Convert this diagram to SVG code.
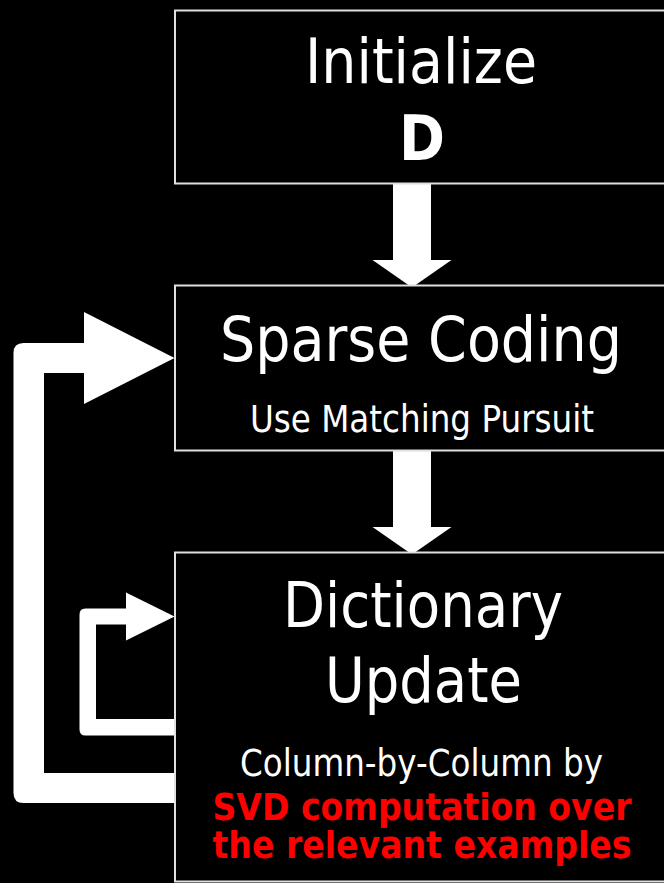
<svg xmlns="http://www.w3.org/2000/svg" width="664" height="883" viewBox="0 0 664 883">
  <style>
    .box { fill: #000; stroke: #e0e0e0; stroke-width: 2; }
    .arrow { fill: #fff; stroke: none; }
    text { font-family: "DejaVu Sans", "Liberation Sans", sans-serif; text-anchor: middle; fill: #fff; }
    .title { font-size: 63px; }
    .sub { font-size: 37px; }
    .key { font-size: 63px; font-weight: bold; }
    .hot { font-size: 38px; font-weight: bold; fill: #ff0000; }
  </style>
  <rect width="664" height="883" fill="#000"/>

  <!-- flow arrows -->
  <g id="connectors">
    <!-- Initialize -> Sparse Coding -->
    <rect class="arrow" x="393" y="183" width="38" height="78"/>
    <polygon class="arrow" points="372.5,260 451.5,260 412,287.5"/>
    <!-- Sparse Coding -> Dictionary Update -->
    <rect class="arrow" x="393" y="450" width="38" height="78"/>
    <polygon class="arrow" points="372.5,527 451.5,527 412,554.5"/>
    <!-- outer loop: Dictionary Update back to Sparse Coding -->
    <path class="arrow" d="M85 343 L23.5 343 Q13.5 343 13.5 353 L13.5 793 Q13.5 803 23.5 803 L175 803 L175 773 L44 773 L44 373 L85 373 Z"/>
    <polygon class="arrow" points="84,312 174.5,358 84,404"/>
    <!-- inner loop: column-by-column iteration -->
    <path class="arrow" d="M127 608.5 L85.5 608.5 Q79.5 608.5 79.5 614.5 L79.5 729.5 Q79.5 735.5 85.5 735.5 L175 735.5 L175 719 L96 719 L96 624.5 L127 624.5 Z"/>
    <polygon class="arrow" points="126,592.5 174.5,616.5 126,640.5"/>
  </g>

  <g id="init">
    <rect class="box" x="175" y="10.5" width="500" height="173"/>
    <text class="title" x="421" y="83" textLength="232" lengthAdjust="spacingAndGlyphs">Initialize</text>
    <text class="key" x="422" y="160" textLength="46" lengthAdjust="spacingAndGlyphs">D</text>
  </g>

  <g id="sparse-coding">
    <rect class="box" x="175" y="285.5" width="500" height="165"/>
    <text class="title" x="421" y="361" textLength="402" lengthAdjust="spacingAndGlyphs">Sparse Coding</text>
    <text class="sub" x="422" y="432" textLength="344" lengthAdjust="spacingAndGlyphs">Use Matching Pursuit</text>
  </g>

  <g id="dictionary-update">
    <rect class="box" x="175" y="552.5" width="500" height="329"/>
    <text class="title" x="423" y="627" textLength="280" lengthAdjust="spacingAndGlyphs">Dictionary</text>
    <text class="title" x="423.5" y="702" textLength="197" lengthAdjust="spacingAndGlyphs">Update</text>
    <text class="sub" x="421.5" y="776" textLength="363" lengthAdjust="spacingAndGlyphs">Column-by-Column by</text>
    <text class="hot" x="422" y="820" textLength="419" lengthAdjust="spacingAndGlyphs">SVD computation over</text>
    <text class="hot" x="422" y="858" textLength="419" lengthAdjust="spacingAndGlyphs">the relevant examples</text>
  </g>
</svg>
